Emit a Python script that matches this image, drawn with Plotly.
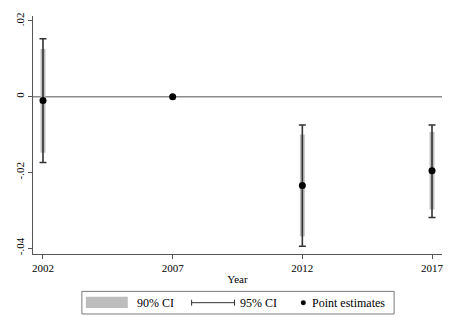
import plotly.graph_objects as go

years = [2002, 2007, 2012, 2017]
point_est = [-0.001, 0.0, -0.0235, -0.0196]
ci90_lo = [-0.0148, 0.0, -0.0369, -0.0298]
ci90_hi = [0.0126, 0.0, -0.0100, -0.0093]
ci95_lo = [-0.0174, 0.0, -0.0395, -0.0319]
ci95_hi = [0.0153, 0.0, -0.0075, -0.0075]
ytick_vals = [0.02, 0.0, -0.02, -0.04]
ytick_text = [".02", "0", "-.02", "-.04"]
xtick_vals = [2002, 2007, 2012, 2017]

FONT = "Liberation Serif"
L, R, T, B = 33, 12, 12, 77
W, H = 455, 331
pw, ph = W - L - R, H - T - B

def px(x):
    return (x - L) / pw

def py(y):
    return (H - B - y) / ph

fig = go.Figure()

has_ci = [lo != hi for lo, hi in zip(ci90_lo, ci90_hi)]
fig.add_trace(go.Bar(
    x=[y for y, h in zip(years, has_ci) if h],
    base=[lo for lo, h in zip(ci90_lo, has_ci) if h],
    y=[hi - lo for lo, hi, h in zip(ci90_lo, ci90_hi, has_ci) if h],
    width=0.19, marker=dict(color="#bdbdbd", line=dict(width=0)),
    showlegend=False, hoverinfo="skip"))

fig.add_trace(go.Scatter(
    x=[y for y, h in zip(years, has_ci) if h],
    y=[p for p, h in zip(point_est, has_ci) if h],
    mode="markers", marker=dict(size=1, color="rgba(0,0,0,0)"),
    error_y=dict(type="data", symmetric=False,
                 array=[hi - p for hi, p, h in zip(ci95_hi, point_est, has_ci) if h],
                 arrayminus=[p - lo for lo, p, h in zip(ci95_lo, point_est, has_ci) if h],
                 color="#333333", thickness=1.6, width=3.5),
    showlegend=False, hoverinfo="skip"))

fig.add_trace(go.Scatter(
    x=years, y=point_est, mode="markers",
    marker=dict(size=7, color="black"), showlegend=False))

# zero reference line
fig.add_shape(type="line", xref="paper", yref="y", x0=0, x1=1, y0=0, y1=0,
              line=dict(color="#8c8c8c", width=1.5), layer="below")

# custom legend
fig.add_shape(type="rect", xref="paper", yref="paper",
              x0=px(82), x1=px(395), y0=py(315), y1=py(292),
              line=dict(color="#7a7a7a", width=1), fillcolor="white")
fig.add_shape(type="rect", xref="paper", yref="paper",
              x0=px(86), x1=px(128), y0=py(309), y1=py(297.5),
              line=dict(width=0), fillcolor="#bdbdbd")
fig.add_shape(type="line", xref="paper", yref="paper",
              x0=px(192), x1=px(235), y0=py(303.5), y1=py(303.5),
              line=dict(color="#333333", width=1))
for xc in (192, 235):
    fig.add_shape(type="line", xref="paper", yref="paper",
                  x0=px(xc), x1=px(xc), y0=py(300.5), y1=py(306.5),
                  line=dict(color="#333333", width=1))
fig.add_shape(type="circle", xref="paper", yref="paper",
              x0=px(301.5), x1=px(306.5), y0=py(306), y1=py(301),
              line=dict(width=0), fillcolor="black")
for txt, xs in (("90% CI", 135), ("95% CI", 239), ("Point estimates", 311)):
    fig.add_annotation(text=txt, xref="paper", yref="paper", x=px(xs), y=py(303.5),
                       xanchor="left", yanchor="middle", showarrow=False,
                       font=dict(family=FONT, size=12, color="black"))

fig.update_layout(
    width=W, height=H, margin=dict(l=L, r=R, t=T, b=B),
    plot_bgcolor="white", paper_bgcolor="white",
    font=dict(family=FONT, size=11, color="black"),
    barmode="overlay", showlegend=False,
    xaxis=dict(range=[2001.615, 2017.385], tickvals=xtick_vals,
               ticks="outside", ticklen=4, tickcolor="#555", showgrid=False,
               zeroline=False, showline=True, linecolor="#555", linewidth=1,
               title=dict(text="Year", standoff=2, font=dict(family=FONT, size=11)),
               tickfont=dict(family=FONT, size=11)),
    yaxis=dict(range=[-0.04156, 0.0213], tickvals=ytick_vals, ticktext=ytick_text,
               tickangle=-90, ticks="outside", ticklen=4, tickcolor="#555",
               showgrid=False, zeroline=False, showline=True, linecolor="#555",
               linewidth=1, tickfont=dict(family=FONT, size=11)),
)

fig.write_html("out.html")
